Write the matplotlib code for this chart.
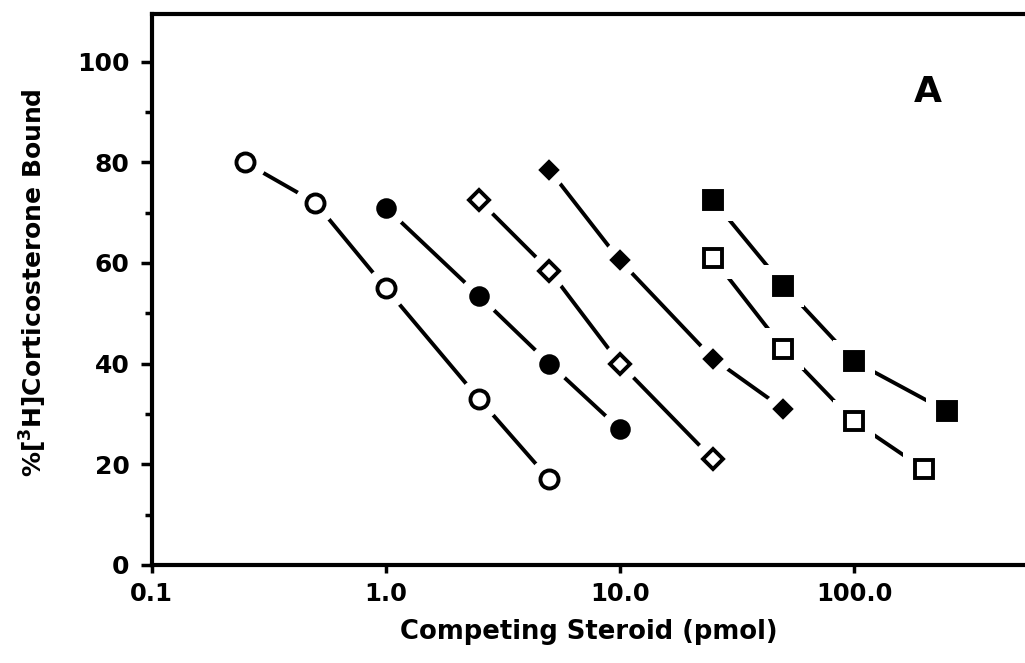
import numpy as np
import matplotlib.pyplot as plt

# Competition curves: % [3H]corticosterone bound vs competing steroid (pmol)
x_open_circle = [0.25, 0.5, 1.0, 2.5, 5.0]
y_open_circle = [80, 72, 55, 33, 17]

x_filled_circle = [1.0, 2.5, 5.0, 10.0]
y_filled_circle = [71, 53.5, 40, 27]

x_open_diamond = [2.5, 5.0, 10.0, 25.0]
y_open_diamond = [72.5, 58.5, 40, 21]

x_filled_diamond = [5.0, 10.0, 25.0, 50.0]
y_filled_diamond = [78.5, 60.5, 41, 31]

x_filled_square = [25.0, 50.0, 100.0, 250.0]
y_filled_square = [72.5, 55.5, 40.5, 30.5]

x_open_square = [25.0, 50.0, 100.0, 200.0]
y_open_square = [61, 43, 28.5, 19]

xticks = [0.1, 1.0, 10.0, 100.0]
xtick_labels = ['0.1', '1.0', '10.0', '100.0']
yticks = [0, 20, 40, 60, 80, 100]

plt.rcParams['font.family'] = ['DejaVu Sans']
plt.rcParams['font.weight'] = 'bold'
plt.rcParams['mathtext.default'] = 'bf'

fig = plt.figure(figsize=(10.25, 6.63), dpi=100)
ax = fig.add_axes([0.148, 0.148, 0.852, 0.831])

series = [
    (x_open_circle, y_open_circle, 'o', 'white', 13),
    (x_filled_circle, y_filled_circle, 'o', 'black', 12),
    (x_open_diamond, y_open_diamond, 'D', 'white', 10),
    (x_filled_diamond, y_filled_diamond, 'D', 'black', 8),
    (x_filled_square, y_filled_square, 's', 'black', 13),
    (x_open_square, y_open_square, 's', 'white', 13),
]

for xs, ys, m, fc, ms in series:
    ax.plot(xs, ys, '-', color='black', lw=2.8, zorder=1, solid_capstyle='round')
    # white halo so the line stops short of each marker
    ax.plot(xs, ys, m, color='white', ms=ms + 17, mew=0, zorder=2)
    ax.plot(xs, ys, m, mfc=fc, mec='black', mew=2.8, ms=ms, zorder=3)

ax.set_xscale('log')
ax.set_xlim(0.1, 538)
ax.set_ylim(0, 109.5)
ax.set_xticks(xticks)
ax.set_xticklabels(xtick_labels)
ax.minorticks_off()
ax.set_yticks(yticks)
ax.set_yticks([10, 30, 50, 70, 90], minor=True)
ax.tick_params(axis='y', which='major', labelsize=18, width=2.5, length=8, direction='out', pad=8)
ax.tick_params(axis='x', which='major', labelsize=17.5, width=2.5, length=6, direction='out', pad=6)
ax.tick_params(axis='y', which='minor', width=2.5, length=5, direction='out')

for s in ['left', 'bottom', 'top']:
    ax.spines[s].set_linewidth(3)
ax.spines['right'].set_visible(False)

ax.set_xlabel('Competing Steroid (pmol)', fontsize=18.6, fontweight='bold')
ax.xaxis.set_label_coords(0.5, -0.098)
ax.set_ylabel(r'%[$^{3}$H]Corticosterone Bound', fontsize=18, fontweight='bold')
ax.yaxis.set_label_coords(-0.118, 0.513)

ax.text(0.889, 0.858, 'A', transform=ax.transAxes, fontsize=26, fontweight='bold',
        ha='center', va='center')

plt.savefig('out.png', dpi=100)
